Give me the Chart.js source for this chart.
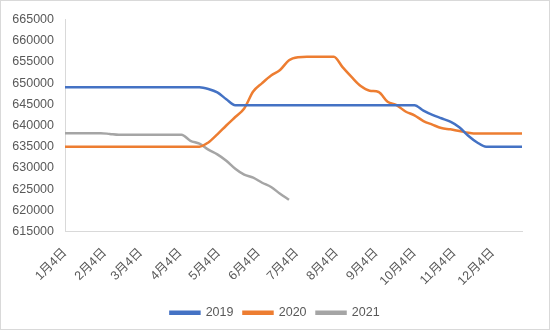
<!DOCTYPE html>
<html lang="zh-cn">
<head>
  <meta charset="UTF-8" />
  <title>2019-2021</title>
  <script src="https://cdn.jsdelivr.net/npm/chart.js"></script>
  <style>
    body { margin: 0; background: #fff; }
    .grafico { width: 548px; height: 328px; border: 1px solid #d9d9d9; }
  </style>
</head>
<body>
  <div class="grafico">
    <canvas id="linhaChart"></canvas>
  </div>

  <script>
    // dias desde 1月4日, um ponto por semana
    var dias = [];
    for (var d = 0; d <= 357; d += 7) dias.push(d);

    var serie2019 = [
      649000, 649000, 649000, 649000, 649000, 649000, 649000, 649000, 649000, 649000,
      649000, 649000, 649000, 649000, 649000, 649000, 648600, 647800, 646200, 644800,
      644800, 644800, 644800, 644800, 644800, 644800, 644800, 644800, 644800, 644800,
      644800, 644800, 644800, 644800, 644800, 644800, 644800, 644800, 644800, 644800,
      643500, 642500, 641700, 640900, 639600, 637600, 636000, 635000, 635000, 635000,
      635000, 635000
    ];
    var serie2020 = [
      635000, 635000, 635000, 635000, 635000, 635000, 635000, 635000, 635000, 635000,
      635000, 635000, 635000, 635000, 635000, 635000, 636000, 637900, 640000, 642000,
      644000, 648000, 650000, 651800, 653100, 655400, 656100, 656200, 656200, 656200,
      656200, 653700, 651400, 649300, 648200, 647900, 645600, 644800, 643300, 642400,
      641050, 640200, 639400, 639100, 638700, 638300, 638100, 638100, 638100, 638100,
      638100, 638100
    ];
    var serie2021 = [
      638200, 638200, 638200, 638200, 638200, 638000, 637800, 637800, 637800, 637800,
      637800, 637800, 637800, 637800, 636400, 635700, 634300, 633200, 631700, 629800,
      628400, 627700, 626500, 625500, 623900, 622500
    ];

    var diasTick = [0, 31, 59, 90, 120, 151, 181, 212, 243, 273, 304, 334];
    var rotulosTick = ['1月4日', '2月4日', '3月4日', '4月4日', '5月4日', '6月4日',
      '7月4日', '8月4日', '9月4日', '10月4日', '11月4日', '12月4日'];

    function pontos(valores) {
      var lista = [];
      for (var i = 0; i < valores.length; i++) {
        lista.push({ x: dias[i], y: valores[i] });
      }
      return lista;
    }

    function serie(nome, valores, cor) {
      return {
        label: nome,
        data: pontos(valores),
        borderColor: cor,
        backgroundColor: cor,
        borderWidth: 2.5,
        pointRadius: 0,
        cubicInterpolationMode: 'monotone'
      };
    }

    var fonte = { family: "'Liberation Sans', 'Noto Sans CJK SC', sans-serif", size: 12.5 };
    Chart.defaults.color = '#595959';

    // legenda centrada na largura toda, como no Excel
    var legendaCentro = {
      id: 'legendaCentro',
      afterLayout: function (chart) {
        chart.legend.left = 0;
        chart.legend.right = chart.width;
      }
    };

    var ctx = document.getElementById('linhaChart').getContext('2d');
    new Chart(ctx, {
      type: 'line',
      data: {
        datasets: [
          serie('2019', serie2019, '#4472c4'),
          serie('2020', serie2020, '#ed7d31'),
          serie('2021', serie2021, '#a5a5a5')
        ]
      },
      options: {
        responsive: true,
        maintainAspectRatio: false,
        animation: false,
        layout: { padding: { top: 16, right: 27, bottom: 0, left: 0 } },
        plugins: {
          tooltip: { enabled: false },
          legend: {
            position: 'bottom',
            labels: { font: fonte, boxWidth: 29, boxHeight: 2, padding: 10 }
          }
        },
        scales: {
          x: {
            type: 'linear',
            min: 0,
            max: 357,
            afterBuildTicks: function (eixo) {
              eixo.ticks = diasTick.map(function (v) { return { value: v }; });
            },
            afterFit: function (eixo) { eixo.height = 65; },
            ticks: {
              font: fonte,
              minRotation: 45,
              maxRotation: 45,
              padding: 14,
              autoSkip: false,
              callback: function (valor) {
                var i = diasTick.indexOf(valor);
                return i >= 0 ? rotulosTick[i] : '';
              }
            },
            grid: { display: false, drawTicks: false },
            border: { display: true, color: '#d9d9d9', width: 1 }
          },
          y: {
            min: 615000,
            max: 665000,
            afterFit: function (eixo) { eixo.width = 64; },
            ticks: {
              font: fonte,
              stepSize: 5000,
              padding: 11,
              callback: function (valor) { return String(valor); }
            },
            grid: { display: false, drawTicks: false },
            border: { display: true, color: '#d9d9d9', width: 1 }
          }
        }
      },
      plugins: [legendaCentro]
    });
  </script>
</body>
</html>
